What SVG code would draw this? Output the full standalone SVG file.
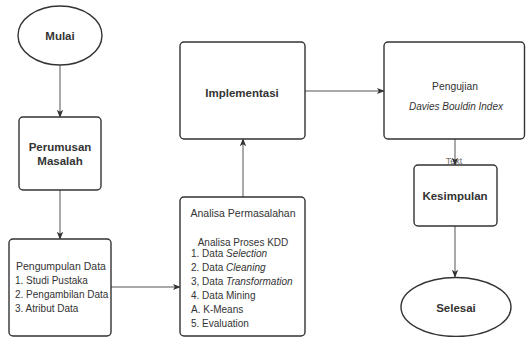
<svg xmlns="http://www.w3.org/2000/svg" width="526" height="337" viewBox="0 0 526 337">
<defs>
<style>
.box{fill:#fff;stroke:#333;stroke-width:1.4}
.t{font-family:"Liberation Sans",Arial,sans-serif;fill:#333}
.b{font-weight:bold;font-size:11.5px;text-anchor:middle}
.n{font-size:10px}
.c{stroke:#555;stroke-width:1;fill:none;marker-end:url(#ar)}
</style>
<marker id="ar" viewBox="0 0 10 10" refX="9" refY="5" markerWidth="8" markerHeight="8" markerUnits="userSpaceOnUse" orient="auto">
<path d="M0,1 L10,5 L0,9 L2.5,5 Z" fill="#333"/>
</marker>
</defs>
<rect width="526" height="337" fill="#fff"/>
<text class="t" x="454" y="164" font-size="9" text-anchor="middle" fill="#999" opacity="0.7">Text</text>
<g id="connectors">
<line class="c" x1="60" y1="65" x2="60" y2="117"/>
<line class="c" x1="60" y1="190" x2="60" y2="239"/>
<line class="c" x1="111" y1="287" x2="180" y2="287"/>
<line class="c" x1="243" y1="197" x2="243" y2="139"/>
<line class="c" x1="305" y1="91" x2="384" y2="91"/>
<line class="c" x1="455" y1="139" x2="455" y2="165"/>
<line class="c" x1="455" y1="226" x2="455" y2="277"/>
</g>
<g id="mulai">
<ellipse class="box" cx="60" cy="35.5" rx="42" ry="29.5"/>
<text class="t b" x="60" y="39.5">Mulai</text>
</g>
<g id="perumusan">
<rect class="box" x="19" y="117" width="82" height="73" rx="4"/>
<text class="t b" x="60" y="151">Perumusan</text>
<text class="t b" x="60" y="165">Masalah</text>
</g>
<g id="pengumpulan">
<rect class="box" x="9" y="239" width="102" height="97" rx="4"/>
<text class="t" x="16" y="270" font-size="10.5">Pengumpulan Data</text>
<text class="t n" x="15" y="284">1. Studi Pustaka</text>
<text class="t n" x="15" y="298">2. Pengambilan Data</text>
<text class="t n" x="15" y="312">3. Atribut Data</text>
</g>
<g id="analisa">
<rect class="box" x="180" y="197" width="125" height="139" rx="4"/>
<text class="t" x="243" y="217" font-size="10.5" text-anchor="middle">Analisa Permasalahan</text>
<text class="t n" x="243" y="245.5" text-anchor="middle">Analisa Proses KDD</text>
<text class="t n" x="191" y="256.5">1. Data <tspan font-style="italic">Selection</tspan></text>
<text class="t n" x="191" y="270.5">2. Data <tspan font-style="italic">Cleaning</tspan></text>
<text class="t n" x="191" y="284.5">3, Data <tspan font-style="italic">Transformation</tspan></text>
<text class="t n" x="191" y="298.5">4. Data Mining</text>
<text class="t n" x="191" y="312.5">A. K-Means</text>
<text class="t n" x="191" y="326.5">5. Evaluation</text>
</g>
<g id="implementasi">
<rect class="box" x="180" y="42" width="125" height="97" rx="4"/>
<text class="t b" x="242" y="97">Implementasi</text>
</g>
<g id="pengujian">
<rect class="box" x="384" y="42" width="140.5" height="97" rx="4"/>
<text class="t" x="455" y="90" font-size="10.3" text-anchor="middle">Pengujian</text>
<text class="t n" x="456" y="109.5" text-anchor="middle" font-style="italic" fill="#666">Davies Bouldin Index</text>
</g>
<g id="kesimpulan">
<rect class="box" x="414" y="165" width="83" height="61" rx="4"/>
<text class="t b" x="455" y="200">Kesimpulan</text>
</g>
<g id="selesai">
<ellipse class="box" cx="456" cy="307" rx="55" ry="29.5"/>
<text class="t b" x="456" y="312">Selesai</text>
</g>
</svg>
